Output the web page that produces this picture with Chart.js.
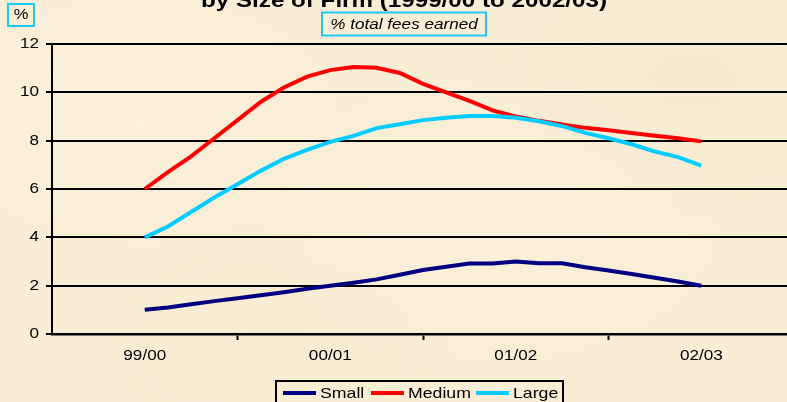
<!DOCTYPE html>
<html>
<head>
<meta charset="utf-8">
<script src="https://cdn.jsdelivr.net/npm/chart.js@4.4.0/dist/chart.umd.min.js"></script>
<style>
  html, body { margin: 0; padding: 0; width: 787px; height: 402px; overflow: hidden; }
  body {
    background-color: #F9EDD5;
    background-image:
      radial-gradient(ellipse 220px 140px at 18% 30%, rgba(255, 249, 236, 0.25), rgba(255, 249, 236, 0) 100%),
      radial-gradient(ellipse 260px 160px at 62% 55%, rgba(255, 248, 232, 0.25), rgba(255, 248, 232, 0) 100%),
      radial-gradient(ellipse 240px 150px at 88% 20%, rgba(240, 224, 192, 0.2), rgba(240, 224, 192, 0) 100%),
      radial-gradient(ellipse 200px 120px at 35% 85%, rgba(242, 226, 195, 0.2), rgba(242, 226, 195, 0) 100%);
  }
  canvas { display: block; }
</style>
</head>
<body>
<canvas id="chart" width="787" height="402"></canvas>
<script>
// Financial years shown on the horizontal axis
const yearLabels = ['99/00', '00/01', '01/02', '02/03'];
// Readings per financial year (the lines have eight steps between years)
const stepsPerYear = 8;

// Share of total fees earned, % (25 readings from 99/00 to 02/03)
const smallFirms = [1.0, 1.1, 1.23, 1.36, 1.48, 1.6, 1.73, 1.87, 2.0, 2.12, 2.26, 2.45, 2.65, 2.78, 2.92, 2.92, 3.0, 2.93, 2.93, 2.76, 2.63, 2.48, 2.33, 2.17, 2.0];
const mediumFirms = [6.0, 6.7, 7.35, 8.1, 8.85, 9.6, 10.2, 10.65, 10.92, 11.05, 11.02, 10.8, 10.35, 10.0, 9.65, 9.25, 9.0, 8.82, 8.67, 8.53, 8.43, 8.32, 8.2, 8.1, 7.97];
const largeFirms = [4.0, 4.45, 5.05, 5.65, 6.2, 6.75, 7.25, 7.62, 7.95, 8.2, 8.52, 8.68, 8.85, 8.95, 9.02, 9.02, 8.95, 8.8, 8.6, 8.32, 8.1, 7.85, 7.55, 7.32, 6.97];

const seriesNames = ['Small', 'Medium', 'Large'];
const seriesColors = ['#000080', '#FF0000', '#00CCFF'];
const yTickValues = [0, 2, 4, 6, 8, 10, 12];
// Year labels sit on whole numbers; the tick marks fall half-way between them
const xTickValues = [0, 0.5, 1, 1.5, 2, 2.5, 3];

const titleText = 'by Size of Firm (1999/00 to 2002/03)';
const unitText = '%';
const subtitleText = '% total fees earned';

const FONT = '"Liberation Sans", Arial, Helvetica, sans-serif';
// The lettering on this chart is set a little wide
const TEXT_WIDEN = 1.18;

const canvas = document.getElementById('chart');
const ctx2d = canvas.getContext('2d');
const plainFillText = ctx2d.fillText.bind(ctx2d);
ctx2d.fillText = function (text, x, y, maxWidth) {
  this.save();
  this.translate(x, y);
  this.scale(TEXT_WIDEN, 1);
  if (maxWidth === undefined) plainFillText(text, 0, 0);
  else plainFillText(text, 0, 0, maxWidth / TEXT_WIDEN);
  this.restore();
};

function toPoints(values) {
  return values.map((v, i) => ({ x: i / stepsPerYear, y: v }));
}

const datasets = [smallFirms, mediumFirms, largeFirms].map((vals, i) => ({
  label: seriesNames[i],
  data: toPoints(vals),
  borderColor: seriesColors[i],
  backgroundColor: seriesColors[i],
  borderWidth: 4,
  pointRadius: 0,
  pointHoverRadius: 0,
  tension: 0,
  fill: false,
  order: 3 - i
}));

// Title, unit box, subtitle box and the boxed legend
const decorations = {
  id: 'decorations',
  afterDraw(chart) {
    const ctx = chart.ctx;
    ctx.save();

    // Chart title (its upper part runs off the top of the page)
    ctx.fillStyle = '#000';
    ctx.font = 'bold 20.5px ' + FONT;
    ctx.textAlign = 'center';
    ctx.textBaseline = 'alphabetic';
    ctx.fillText(titleText, 404, 7);

    // Unit box
    ctx.strokeStyle = '#1EC8F5';
    ctx.lineWidth = 2;
    ctx.strokeRect(8, 4, 26, 22);
    ctx.font = '14px ' + FONT;
    ctx.textBaseline = 'middle';
    ctx.fillText(unitText, 21, 15.5);

    // Subtitle box
    ctx.strokeRect(322, 12.5, 164, 23);
    ctx.font = 'italic 14.5px ' + FONT;
    ctx.fillText(subtitleText, 404, 24.5);

    // Legend
    ctx.strokeStyle = '#000';
    ctx.lineWidth = 2;
    ctx.strokeRect(276, 381, 287, 30);
    const lineStarts = [283, 371, 476];
    const textStarts = [320, 408, 513];
    const yMid = 393;
    chart.data.datasets.forEach((ds, i) => {
      ctx.strokeStyle = ds.borderColor;
      ctx.lineWidth = 4;
      ctx.beginPath();
      ctx.moveTo(lineStarts[i], yMid);
      ctx.lineTo(lineStarts[i] + 33, yMid);
      ctx.stroke();
      ctx.fillStyle = '#000';
      ctx.font = '15px ' + FONT;
      ctx.textAlign = 'left';
      ctx.textBaseline = 'middle';
      ctx.fillText(ds.label, textStarts[i], yMid + 0.5);
    });

    ctx.restore();
  }
};

new Chart(canvas, {
  type: 'line',
  data: { datasets },
  plugins: [decorations],
  options: {
    responsive: false,
    animation: false,
    events: [],
    layout: { padding: { top: 44, left: 0, right: 0, bottom: 0 } },
    plugins: {
      legend: { display: false },
      title: { display: false },
      tooltip: { enabled: false }
    },
    scales: {
      x: {
        type: 'linear',
        min: -0.5,
        max: 3.462,
        afterFit(scale) { scale.height = 68; },
        afterBuildTicks(scale) {
          scale.ticks = xTickValues.map(v => ({ value: v }));
        },
        ticks: {
          autoSkip: false,
          maxRotation: 0,
          minRotation: 0,
          padding: 7,
          color: '#000',
          font: { family: FONT, size: 14.5 },
          callback(value) {
            return Number.isInteger(value) ? yearLabels[value] : '';
          }
        },
        grid: {
          drawOnChartArea: false,
          drawTicks: true,
          tickLength: 6,
          tickWidth: 2,
          tickColor: (c) => (c.tick && Number.isInteger(c.tick.value)) ? 'rgba(0,0,0,0)' : '#000'
        },
        border: { display: true, color: '#000', width: 2.5 }
      },
      y: {
        min: 0,
        max: 12,
        afterFit(scale) { scale.width = 52; },
        afterBuildTicks(scale) {
          scale.ticks = yTickValues.map(v => ({ value: v }));
        },
        ticks: {
          padding: 7,
          color: '#000',
          font: { family: FONT, size: 14.5 }
        },
        grid: {
          color: '#000',
          lineWidth: 2,
          tickLength: 6,
          tickColor: '#000',
          tickWidth: 2
        },
        border: { display: true, color: '#000', width: 2 }
      }
    }
  }
});
</script>
</body>
</html>
